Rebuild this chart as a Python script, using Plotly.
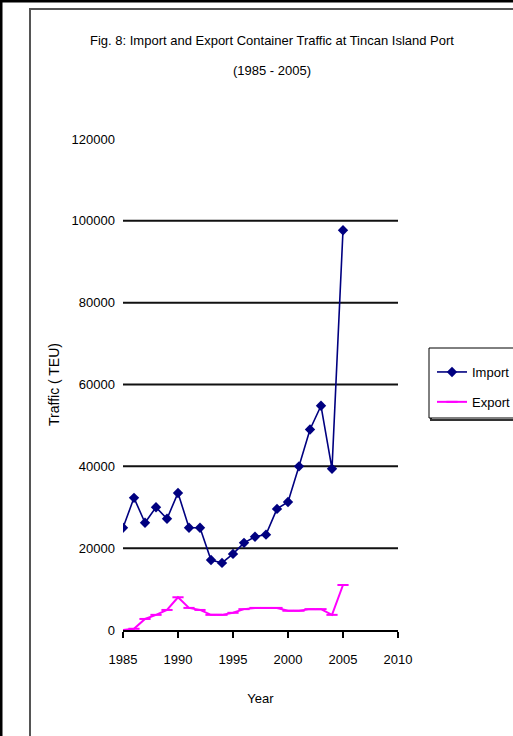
import plotly.graph_objects as go

# Container traffic at Tincan Island Port, 1985-2005 (TEU)
years = list(range(1985, 2006))
import_teu = [25000, 32300, 26200, 30000, 27200, 33500, 25000, 25000, 17100, 16400,
              18600, 21300, 22800, 23300, 29600, 31300, 40000, 49000, 54800, 39400, 97700]
export_teu = [0, 300, 2700, 3700, 4900, 8000, 5400, 4900, 3700, 3700,
              4200, 5100, 5400, 5400, 5400, 4700, 4700, 5100, 5100, 3700, 11000]

x_ticks = [1985, 1990, 1995, 2000, 2005, 2010]
y_ticks = [0, 20000, 40000, 60000, 80000, 100000, 120000]

title_lines = ["Fig. 8: Import and Export Container Traffic at Tincan Island Port",
               "(1985 - 2005)"]

W, H = 513, 736
L, R, T, B = 123, 115, 139, 106
PW, PH = W - L - R, H - T - B


def px(x):
    return (x - L) / PW


def py(y):
    return (H - B - y) / PH


FONT = "Liberation Sans, Arial, sans-serif"

fig = go.Figure()
fig.add_trace(go.Scatter(
    x=years, y=import_teu, name="Import", mode="lines+markers", legendgroup="imp",
    line=dict(color="#000080", width=1.6),
    marker=dict(symbol="diamond", size=8, color="#000080"),
))
fig.add_trace(go.Scatter(
    x=years, y=export_teu, name="Export", mode="lines+markers", legendgroup="exp",
    line=dict(color="#FF00FF", width=2),
    marker=dict(symbol="line-ew", size=8, line=dict(color="#FF00FF", width=2)),
))

shapes = []
# horizontal gridlines (not at the top of the range)
for v in y_ticks[1:-1]:
    shapes.append(dict(type="line", xref="x", yref="y", x0=x_ticks[0], x1=x_ticks[-1],
                       y0=v, y1=v, line=dict(color="#111111", width=2), layer="below"))
# outer black frame and inner grey frame
shapes.append(dict(type="rect", xref="paper", yref="paper",
                   x0=px(1), x1=px(540), y0=py(1), y1=py(760),
                   line=dict(color="black", width=3)))
shapes.append(dict(type="rect", xref="paper", yref="paper",
                   x0=px(30), x1=px(540), y0=py(9), y1=py(760),
                   line=dict(color="#555555", width=2)))
# legend box with shadow
shapes.append(dict(type="rect", xref="paper", yref="paper",
                   x0=px(431), x1=px(540), y0=py(350), y1=py(420),
                   line=dict(color="#333333", width=2)))
shapes.append(dict(type="rect", xref="paper", yref="paper",
                   x0=px(429), x1=px(540), y0=py(348), y1=py(418),
                   fillcolor="white", line=dict(color="black", width=1)))

annotations = [
    dict(text=title_lines[0], xref="paper", yref="paper", x=px(272), y=py(41),
         xanchor="center", yanchor="middle", showarrow=False, font=dict(size=13)),
    dict(text=title_lines[1], xref="paper", yref="paper", x=px(272), y=py(70),
         xanchor="center", yanchor="middle", showarrow=False, font=dict(size=13)),
]

fig.update_layout(
    width=W, height=H,
    margin=dict(l=L, r=R, t=T, b=B, autoexpand=False),
    paper_bgcolor="white", plot_bgcolor="white",
    font=dict(family=FONT, size=13, color="black"),
    shapes=shapes,
    annotations=annotations,
    showlegend=True,
    legend=dict(
        x=px(432), y=py(357), xanchor="left", yanchor="top",
        bgcolor="rgba(0,0,0,0)", borderwidth=0,
        font=dict(size=13, family=FONT), tracegroupgap=10,
    ),
    xaxis=dict(
        range=[x_ticks[0], x_ticks[-1]], tickvals=x_ticks,
        showgrid=False, zeroline=False,
        showline=True, linecolor="black", linewidth=2,
        ticks="outside", ticklen=6, tickcolor="black", tickwidth=1.5,
        ticklabelstandoff=10, tickfont=dict(size=13),
        title=dict(text="Year", font=dict(size=13), standoff=28),
    ),
    yaxis=dict(
        range=[y_ticks[0], y_ticks[-1]], tickvals=y_ticks, tickformat="d",
        showgrid=False, zeroline=False, showline=False, ticks="",
        ticklabelstandoff=7, tickfont=dict(size=13),
        title=dict(text="Traffic ( TEU)", font=dict(size=14), standoff=8),
    ),
)

fig.write_html("out.html")
